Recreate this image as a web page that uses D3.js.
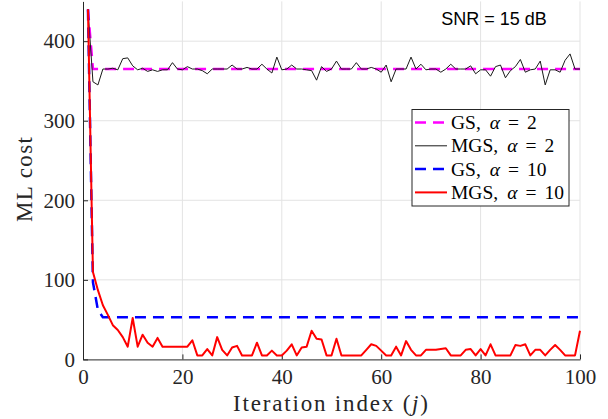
<!DOCTYPE html>
<html>
<head>
<meta charset="utf-8">
<script src="https://cdn.jsdelivr.net/npm/d3@7"></script>
<style>
  body { margin: 0; background: #fff; }
  svg { display: block; }
  .tick-label { font-family: "Liberation Serif", "Times New Roman", serif; font-size: 21px; fill: #262626; }
  .axis-label { font-family: "Liberation Serif", "Times New Roman", serif; font-size: 23px; fill: #262626; }
  .legend-text { font-family: "Liberation Serif", "Times New Roman", serif; font-size: 19.5px; fill: #000; }
</style>
</head>
<body>
<script>
// iteration index j = 1..100
var iterations = d3.range(1, 101);

var gsAlpha2 = [440, 365, 365, 365, 365, 365, 365, 365, 365, 365,
  365, 365, 365, 365, 365, 365, 365, 365, 365, 365,
  365, 365, 365, 365, 365, 365, 365, 365, 365, 365,
  365, 365, 365, 365, 365, 365, 365, 365, 365, 365,
  365, 365, 365, 365, 365, 365, 365, 365, 365, 365,
  365, 365, 365, 365, 365, 365, 365, 365, 365, 365,
  365, 365, 365, 365, 365, 365, 365, 365, 365, 365,
  365, 365, 365, 365, 365, 365, 365, 365, 365, 365,
  365, 365, 365, 365, 365, 365, 365, 365, 365, 365,
  365, 365, 365, 365, 365, 365, 365, 365, 365, 365];

var mgsAlpha2 = [440, 349, 345, 365, 365, 366, 364, 378, 379, 369,
  364, 366, 362, 364, 362, 364, 364, 373, 365, 364,
  368, 365, 365, 363, 359, 365, 365, 365, 365, 370,
  365, 365, 367, 365, 365, 371, 365, 360, 380, 364,
  365, 370, 365, 365, 364, 363, 351, 368, 362, 365,
  375, 365, 365, 365, 373, 365, 365, 367, 365, 361,
  370, 349, 365, 365, 365, 380, 365, 371, 364, 365,
  365, 361, 365, 371, 365, 365, 365, 369, 359, 364,
  364, 356, 368, 370, 354, 363, 368, 377, 361, 364,
  365, 375, 345, 364, 364, 361, 376, 384, 365, 365];

var gsAlpha10 = [440, 97, 62, 53, 53, 53, 53, 53, 53, 53,
  53, 53, 53, 53, 53, 53, 53, 53, 53, 53,
  53, 53, 53, 53, 53, 53, 53, 53, 53, 53,
  53, 53, 53, 53, 53, 53, 53, 53, 53, 53,
  53, 53, 53, 53, 53, 53, 53, 53, 53, 53,
  53, 53, 53, 53, 53, 53, 53, 53, 53, 53,
  53, 53, 53, 53, 53, 53, 53, 53, 53, 53,
  53, 53, 53, 53, 53, 53, 53, 53, 53, 53,
  53, 53, 53, 53, 53, 53, 53, 53, 53, 53,
  53, 53, 53, 53, 53, 53, 53, 53, 53, 53];

var mgsAlpha10 = [440, 110, 87, 68, 56, 43, 37, 28, 16, 52,
  16, 31, 21, 16, 27, 16, 16, 16, 16, 16,
  16, 24, 5, 5, 13, 5, 28, 12, 5, 15,
  17, 5, 5, 5, 21, 5, 5, 11, 5, 5,
  11, 19, 5, 15, 16, 36, 26, 25, 5, 5,
  26, 5, 5, 5, 5, 5, 12, 19, 17, 11,
  5, 5, 16, 5, 23, 12, 5, 5, 12, 12,
  12, 13, 14, 5, 5, 5, 12, 13, 5, 13,
  5, 19, 5, 5, 5, 5, 18, 17, 19, 5,
  12, 12, 5, 12, 18, 12, 5, 5, 5, 36];

var xTicks = [0, 20, 40, 60, 80, 100];
var yTicks = [0, 100, 200, 300, 400];

var seriesNames = ['GS,', 'MGS,', 'GS,', 'MGS,'];
var seriesAlphas = ['2', '2', '10', '10'];

var width = 608, height = 419;
var plot = { left: 83, right: 580, top: 1.4, bottom: 359.4 };

var x = d3.scaleLinear().domain([0, 100]).range([plot.left, plot.right]);
var y = d3.scaleLinear().domain([0, 450]).range([plot.bottom, plot.top]);

var svg = d3.select('body').append('svg')
  .attr('width', width)
  .attr('height', height);

svg.append('defs').append('clipPath')
  .attr('id', 'clip')
  .append('rect')
  .attr('x', plot.left)
  .attr('y', 0)
  .attr('width', plot.right - plot.left + 1)
  .attr('height', plot.bottom);

// grid
var grid = svg.append('g');
grid.selectAll('.vgrid')
  .data(xTicks.filter(function(d) { return d > 0; }))
  .enter()
  .append('line')
  .attr('x1', function(d) { return x(d); })
  .attr('x2', function(d) { return x(d); })
  .attr('y1', y(450))
  .attr('y2', plot.bottom)
  .attr('stroke', '#e3e3e3')
  .attr('stroke-width', 1);
grid.selectAll('.hgrid')
  .data(yTicks.filter(function(d) { return d > 0; }))
  .enter()
  .append('line')
  .attr('x1', plot.left)
  .attr('x2', plot.right)
  .attr('y1', function(d) { return y(d); })
  .attr('y2', function(d) { return y(d); })
  .attr('stroke', '#e3e3e3')
  .attr('stroke-width', 1);

// axes, matlab style: ticks inside
var xAxis = svg.append('g')
  .attr('transform', 'translate(0,' + plot.bottom + ')')
  .call(d3.axisBottom(x).tickValues(xTicks).tickSizeInner(-5).tickSizeOuter(0).tickPadding(10));
var yAxis = svg.append('g')
  .attr('transform', 'translate(' + plot.left + ',0)')
  .call(d3.axisLeft(y).tickValues(yTicks).tickSizeInner(-5).tickSizeOuter(0).tickPadding(8));

[xAxis, yAxis].forEach(function(ax) {
  ax.select('.domain').attr('stroke', '#262626').attr('stroke-width', 1);
  ax.selectAll('.tick line').attr('stroke', '#262626');
  ax.selectAll('.tick text').attr('class', 'tick-label').attr('font-family', null).attr('font-size', null);
});
xAxis.selectAll('.tick text').attr('dy', '0.71em');

// lines
var line = d3.line()
  .x(function(d) { return x(d.j); })
  .y(function(d) { return y(d.v); });

function toPoints(values) {
  return values.map(function(v, i) { return { j: iterations[i], v: v }; });
}

var series = [
  { values: gsAlpha2, color: '#ff00ff', width: 2.5, dash: '11,7' },
  { values: mgsAlpha2, color: '#1a1a1a', width: 1, dash: null },
  { values: gsAlpha10, color: '#0000ff', width: 2.5, dash: '11,7' },
  { values: mgsAlpha10, color: '#ff0000', width: 2, dash: null }
];

svg.append('g')
  .attr('clip-path', 'url(#clip)')
  .selectAll('path')
  .data(series)
  .enter()
  .append('path')
  .attr('d', function(d) { return line(toPoints(d.values)); })
  .attr('fill', 'none')
  .attr('stroke', function(d) { return d.color; })
  .attr('stroke-width', function(d) { return d.width; })
  .attr('stroke-dasharray', function(d) { return d.dash; })
  .attr('stroke-linejoin', 'round');

// axis labels (latex font is wider, stretch to the same length)
var xl = svg.append('text')
  .attr('class', 'axis-label')
  .attr('x', 233)
  .attr('y', 411)
  .attr('textLength', 195)
  .attr('lengthAdjust', 'spacing');
xl.append('tspan').text('Iteration index (');
xl.append('tspan').attr('font-style', 'italic').text('j');
xl.append('tspan').text(')');

svg.append('text')
  .attr('class', 'axis-label')
  .attr('transform', 'translate(31.5,222) rotate(-90)')
  .attr('textLength', 85)
  .attr('lengthAdjust', 'spacing')
  .text('ML cost');

// annotation
svg.append('text')
  .attr('x', 494)
  .attr('y', 25)
  .attr('text-anchor', 'middle')
  .attr('font-family', '"Liberation Sans", Arial, sans-serif')
  .attr('font-size', 18)
  .attr('fill', '#000')
  .text('SNR = 15 dB');

// legend
var legend = svg.append('g').attr('transform', 'translate(412,109.5)');
legend.append('rect')
  .attr('width', 157)
  .attr('height', 96.5)
  .attr('fill', '#fff')
  .attr('stroke', '#262626')
  .attr('stroke-width', 1);

var rows = legend.selectAll('.row')
  .data(series)
  .enter()
  .append('g')
  .attr('transform', function(d, i) { return 'translate(0,' + (13 + i * 23.3) + ')'; });

rows.append('line')
  .attr('x1', 3)
  .attr('x2', 35)
  .attr('stroke', function(d) { return d.color; })
  .attr('stroke-width', function(d) { return d.width; })
  .attr('stroke-dasharray', function(d) { return d.dash; });

var label = rows.append('text')
  .attr('class', 'legend-text')
  .attr('x', 39)
  .attr('y', 6.5);
label.append('tspan').text(function(d, i) { return seriesNames[i]; });
label.append('tspan').attr('dx', 9).attr('font-style', 'italic').text('\u03b1');
label.append('tspan').attr('dx', 8).text('=');
label.append('tspan').attr('dx', 8).text(function(d, i) { return seriesAlphas[i]; });
</script>
</body>
</html>
